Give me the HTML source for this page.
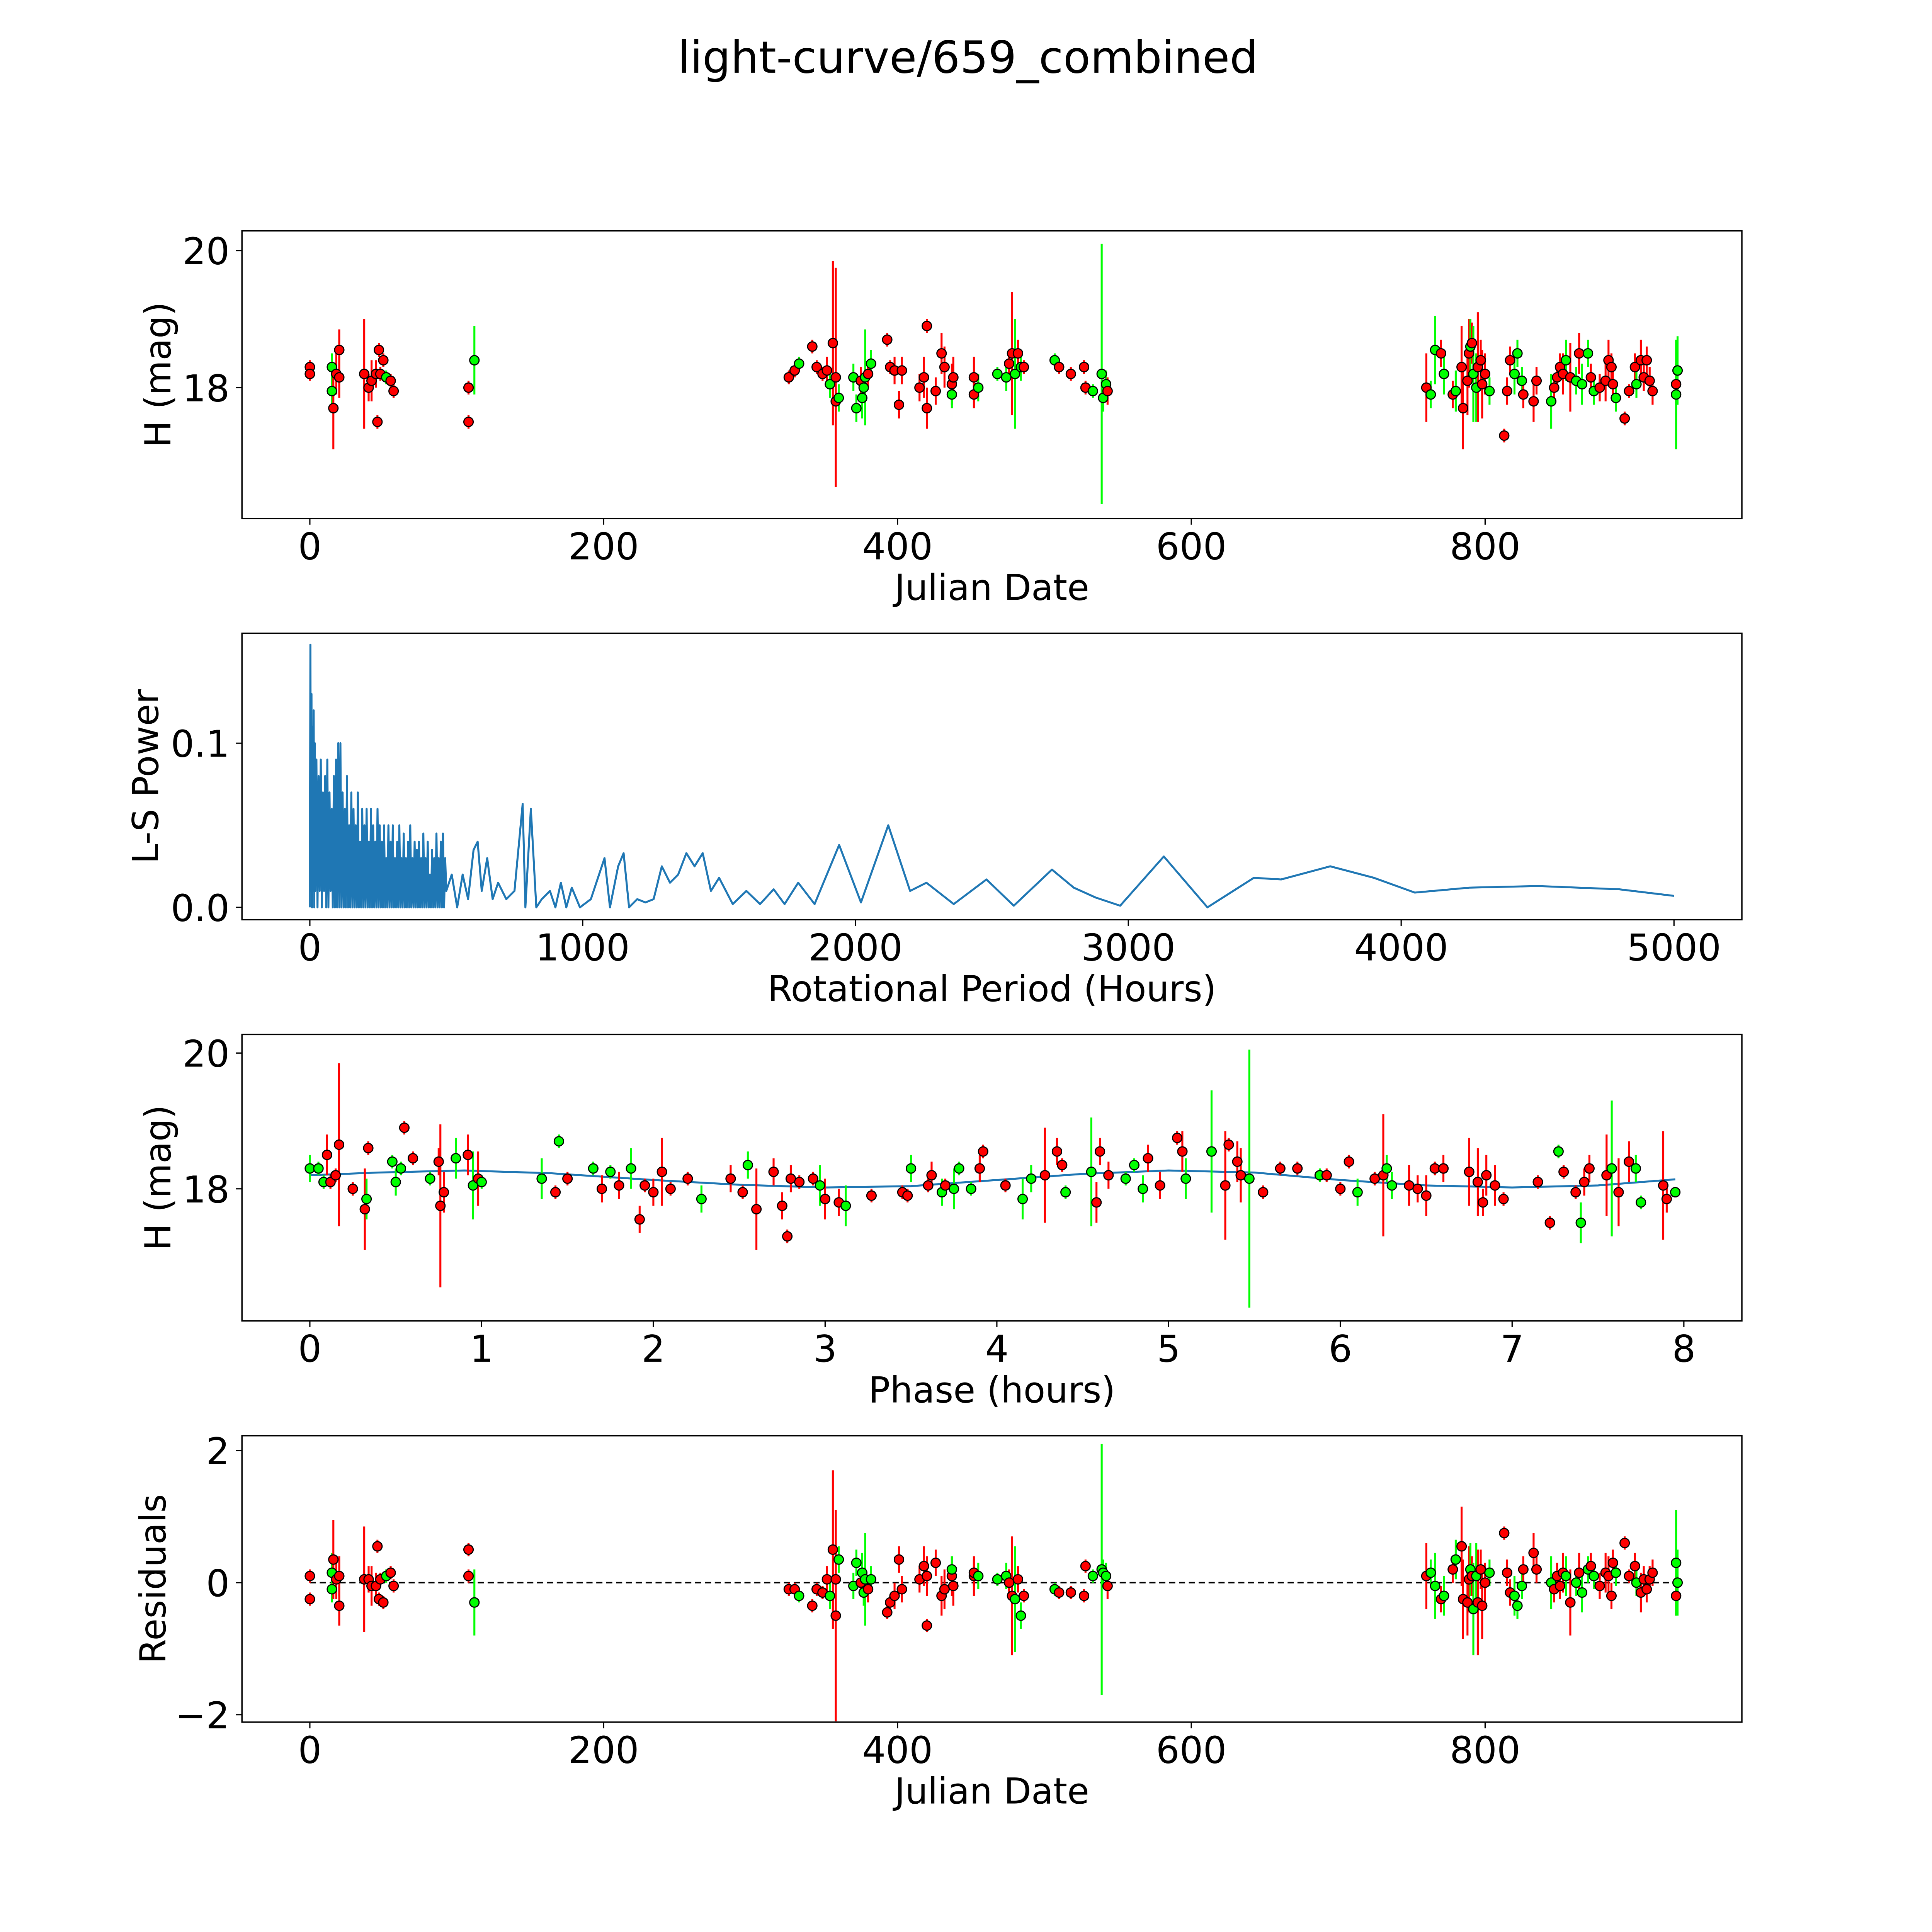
<!DOCTYPE html>
<html><head><meta charset="utf-8"><style>
html,body{margin:0;padding:0;background:#fff;width:100vw;height:100vh;overflow:hidden;}
svg{display:block;width:100vw;height:100vh;font-family:"DejaVu Sans","Liberation Sans",sans-serif;}
</style></head><body>
<svg id="fig" viewBox="0 0 1565 1565" preserveAspectRatio="none" xmlns="http://www.w3.org/2000/svg">
<rect width="1565" height="1565" fill="#fff"/>
<text x="784" y="59" font-size="36" text-anchor="middle">light-curve/659_combined</text>
</svg>
<script>
// ---- data: light curve (Julian date, magnitude, error, filter) ----
const jdDates=[0,0,15,15,16,18,20,20,37,40,42,45,46,47,48,50,52,55,57,108,108,112,
326,330,333,342,345,349,352,354,356,358,358,360,370,372,375,376,377,378,380,382,393,395,398,401,403,415,418,420,420,426,430,432,437,437,438,452,452,455,468,474,476,478,480,482,484,486,507,510,518,527,528,533,539,540,542,543,
760,763,766,770,772,778,780,784,785,788,789,790,791,792,794,795,797,798,800,803,813,815,817,820,822,825,826,833,835,845,847,849,851,853,855,858,862,864,866,870,872,874,878,882,884,886,887,889,895,898,902,903,906,908,910,912,914,930,930,931];
const jdMags=[18.3,18.2,18.3,17.95,17.7,18.2,18.55,18.15,18.2,18.0,18.1,18.2,17.5,18.55,18.2,18.4,18.15,18.1,17.95,18.0,17.5,18.4,
18.15,18.25,18.35,18.6,18.3,18.2,18.25,18.05,18.65,18.15,17.8,17.85,18.15,17.7,18.1,17.85,18.0,18.15,18.2,18.35,18.7,18.3,18.25,17.75,18.25,18.0,18.15,17.7,18.9,17.95,18.5,18.3,18.05,17.9,18.15,18.15,17.9,18.0,18.2,18.15,18.35,18.5,18.2,18.5,18.3,18.3,18.4,18.3,18.2,18.3,18.0,17.95,18.2,17.85,18.05,17.95,
18.0,17.9,18.55,18.5,18.2,17.9,17.95,18.3,17.7,18.1,18.5,18.6,18.65,18.2,18.0,18.3,18.4,18.05,18.2,17.95,17.3,17.95,18.4,18.2,18.5,18.1,17.9,17.8,18.1,17.8,18.0,18.15,18.3,18.2,18.4,18.15,18.1,18.5,18.05,18.5,18.15,17.95,18.0,18.1,18.4,18.3,18.05,17.85,17.55,17.95,18.3,18.05,18.4,18.15,18.4,18.1,17.95,18.05,17.9,18.25];
const jdErrs=[0.1,0.1,0.2,0.3,0.6,0.3,0.3,0.3,0.8,0.2,0.3,0.2,0.1,0.1,0.1,0.1,0.1,0.1,0.1,0.1,0.1,0.5,
0.1,0.1,0.1,0.1,0.1,0.1,0.2,0.2,1.2,1.6,0.2,0.2,0.2,0.2,0.2,0.3,0.2,0.7,0.2,0.2,0.1,0.1,0.2,0.2,0.2,0.2,0.3,0.3,0.1,0.2,0.3,0.3,0.3,0.2,0.3,0.3,0.2,0.2,0.1,0.2,0.2,0.9,0.8,0.2,0.2,0.1,0.1,0.1,0.1,0.1,0.1,0.1,1.9,0.2,0.2,0.2,
0.5,0.2,0.5,0.2,0.3,0.2,0.3,0.6,0.6,0.5,0.5,0.4,0.3,0.7,0.5,0.8,0.3,0.5,0.3,0.2,0.1,0.2,0.2,0.3,0.2,0.2,0.2,0.3,0.2,0.4,0.2,0.2,0.2,0.3,0.3,0.5,0.2,0.3,0.3,0.2,0.2,0.2,0.2,0.3,0.3,0.2,0.2,0.2,0.1,0.1,0.2,0.2,0.3,0.2,0.2,0.2,0.2,0.3,0.8,0.5];
const jdFilters="rrggrrrrrrrrrrrrgrrrrg"+"rrgrrrrgrrrgggrgggrgrrrrrrrrrrrrrgrrrgggrrgrgrgrrrrggggrrg"+"grgrgrrrrgrggrrrrgrrrgggrrrgrrrrgrgrggrgrrrrrgrrrgrrrrrrgggrgr";
const resid=[0.1,-0.25,-0.1,0.15,0.35,0.05,-0.35,0.1,0.05,0.05,-0.05,-0.05,0.55,-0.25,0.05,-0.3,0.1,0.15,-0.05,0.1,0.5,-0.3,
-0.1,-0.1,-0.2,-0.35,-0.1,-0.15,0.05,-0.2,0.5,-0.5,0.05,0.35,-0.05,0.3,0.0,0.15,-0.15,0.05,-0.1,0.05,-0.45,-0.3,-0.2,0.35,-0.1,0.05,0.25,0.1,-0.65,0.3,-0.2,-0.1,0.1,0.2,-0.05,0.1,0.15,0.1,0.05,0.1,0.0,-0.2,-0.25,0.05,-0.5,-0.2,-0.1,-0.15,-0.15,-0.2,0.25,0.1,0.2,0.15,0.1,-0.05,
0.1,0.15,-0.05,-0.25,-0.2,0.2,0.35,0.55,-0.25,-0.3,0.05,0.2,0.1,-0.4,0.1,-0.3,0.2,-0.35,0.0,0.15,0.75,0.15,-0.15,-0.2,-0.35,-0.05,0.2,0.45,0.2,0.0,-0.1,0.1,-0.05,0.15,0.1,-0.3,0.0,0.15,-0.15,0.2,0.25,0.1,-0.05,0.15,0.1,-0.2,0.3,0.15,0.6,0.1,0.25,0.0,-0.15,0.05,-0.1,0.05,0.15,-0.2,0.3,0.0];
// ---- data: periodogram, short periods as [period, power] pairs ----
const lowSpikes=[[0,0],[2,0.16],[4,0.01],[6,0.13],[8,0],[10,0.11],[12,0.01],[14,0.12],[16,0],[18,0.1],[20,0.01],[24,0.09],[28,0],[32,0.08],[36,0.01],[40,0.09],[44,0],[48,0.07],[52,0.01],[56,0.08],[60,0],[64,0.09],[68,0],[72,0.07],[76,0.01],[80,0.06],[84,0],[88,0.08],[92,0],[96,0.09],[100,0],[104,0.1],[108,0],[112,0.1],[116,0],[120,0.07],[124,0],[128,0.06],[132,0],[136,0.08],[140,0],[144,0.05],[148,0],[152,0.07],[156,0],[160,0.06],[164,0],[168,0.05],[172,0],[176,0.07],[180,0],[184,0.04],[188,0],[192,0.06],[196,0],[200,0.05],[204,0],[208,0.06],[212,0],[216,0.04],[220,0],[224,0.06],[228,0],[232,0.05],[236,0],[240,0.04],[244,0],[248,0.06],[252,0],[256,0.05],[260,0],[264,0.04],[268,0],[272,0.05],[276,0],[280,0.03],[284,0],[288,0.05],[292,0],[296,0.04],[300,0],[304,0.05],[308,0],[312,0.03],[316,0],[320,0.04],[324,0],[328,0.05],[332,0],[336,0.03],[340,0],[344,0.045],[348,0],[352,0.03],[356,0],[360,0.04],[364,0],[368,0.05],[372,0],[376,0.03],[380,0],[384,0.04],[388,0],[392,0.035],[396,0],[400,0.04],[404,0],[408,0.03],[412,0],[416,0.045],[420,0],[424,0.03],[428,0],[432,0.04],[436,0],[440,0.02],[444,0],[448,0.035],[452,0],[456,0.03],[460,0],[464,0.045],[468,0],[472,0.03],[476,0],[480,0.04],[484,0],[488,0.045],[492,0],[496,0.03],[500,0.01]];
const periods=[520,540,560,580,600,615,630,650,670,690,720,750,780,790,810,830,850,880,900,920,940,960,990,1030,1060,1080,1100,1130,1150,1170,1200,1230,1260,1290,1320,1350,1380,1410,1440,1470,1500,1550,1600,1650,1700,1740,1790,1850,1940,2020,2120,2200,2260,2360,2480,2580,2720,2800,2880,2970,3130,3290,3460,3560,3740,3900,4050,4250,4500,4800,5000];
const powers=[0.02,0,0.02,0.005,0.035,0.04,0.01,0.03,0.005,0.015,0.005,0.01,0.063,0,0.06,0,0.005,0.01,0,0.015,0,0.012,0,0.005,0.02,0.03,0,0.025,0.033,0,0.005,0.003,0.005,0.025,0.015,0.02,0.033,0.025,0.033,0.01,0.018,0.002,0.01,0.002,0.011,0.002,0.015,0.002,0.038,0.003,0.05,0.01,0.015,0.002,0.017,0.001,0.023,0.012,0.006,0.001,0.031,0,0.018,0.017,0.025,0.018,0.009,0.012,0.013,0.011,0.007];
// ---- data: phase-folded ----
const phases=[0,0.05,0.08,0.1,0.12,0.15,0.17,0.25,0.32,0.33,0.34,0.48,0.5,0.53,0.55,0.6,0.7,0.75,0.76,0.78,0.85,0.92,0.95,0.98,1.0,1.35,1.43,1.45,1.5,1.65,1.7,1.75,1.8,1.87,1.92,1.95,2.0,2.05,2.1,2.2,2.28,2.45,2.52,2.55,2.6,2.7,2.75,2.78,2.8,2.85,2.93,2.97,3.0,3.08,3.12,3.27,3.45,3.48,3.5,3.6,3.62,3.68,3.7,3.75,3.78,3.85,3.9,3.92,4.05,4.15,4.2,4.28,4.35,4.38,4.4,4.55,4.58,4.6,4.65,4.75,4.8,4.85,4.88,4.95,5.05,5.08,5.1,5.25,5.33,5.35,5.4,5.42,5.47,5.55,5.65,5.75,5.88,5.92,6.0,6.05,6.1,6.2,6.25,6.27,6.3,6.4,6.45,6.5,6.55,6.6,6.75,6.8,6.83,6.85,6.9,6.95,7.15,7.22,7.27,7.3,7.37,7.4,7.42,7.45,7.55,7.58,7.62,7.68,7.72,7.75,7.88,7.9,7.95];
const phMags=[18.3,18.3,18.1,18.5,18.1,18.2,18.65,18.0,17.7,17.85,18.6,18.4,18.1,18.3,18.9,18.45,18.15,18.4,17.75,17.95,18.45,18.5,18.05,18.15,18.1,18.15,17.95,18.7,18.15,18.3,18.0,18.25,18.05,18.3,17.55,18.05,17.95,18.25,18.0,18.15,17.85,18.15,17.95,18.35,17.7,18.25,17.75,17.3,18.15,18.1,18.15,18.05,17.85,17.8,17.75,17.9,17.95,17.9,18.3,18.05,18.2,17.95,18.05,18.0,18.3,18.0,18.3,18.55,18.05,17.85,18.15,18.2,18.55,18.35,17.95,18.25,17.8,18.55,18.2,18.15,18.35,18.0,18.45,18.05,18.75,18.55,18.15,18.55,18.05,18.65,18.4,18.2,18.15,17.95,18.3,18.3,18.2,18.2,18.0,18.4,17.95,18.15,18.2,18.3,18.05,18.05,18.0,17.9,18.3,18.3,18.25,18.1,17.8,18.2,18.05,17.85,18.1,17.5,18.55,18.25,17.95,17.5,18.1,18.3,18.2,18.3,17.95,18.4,18.3,17.8,18.05,17.85,17.95];
const phErrs=[0.2,0.1,0.1,0.3,0.1,0.1,1.2,0.1,0.6,0.3,0.1,0.1,0.2,0.1,0.1,0.1,0.1,0.2,1.2,0.3,0.3,0.3,0.5,0.4,0.1,0.3,0.1,0.1,0.1,0.1,0.2,0.1,0.2,0.3,0.2,0.1,0.2,0.5,0.1,0.1,0.2,0.2,0.1,0.2,0.6,0.2,0.2,0.1,0.2,0.1,0.1,0.3,0.3,0.2,0.3,0.1,0.1,0.1,0.2,0.1,0.2,0.2,0.1,0.3,0.1,0.1,0.2,0.1,0.1,0.3,0.2,0.7,0.2,0.1,0.1,0.8,0.3,0.2,0.2,0.1,0.1,0.2,0.2,0.2,0.1,0.3,0.3,0.9,0.8,0.1,0.3,0.4,1.9,0.1,0.1,0.1,0.1,0.1,0.1,0.1,0.2,0.1,0.9,0.2,0.2,0.3,0.2,0.3,0.1,0.2,0.5,0.5,0.2,0.3,0.3,0.1,0.1,0.1,0.1,0.1,0.1,0.3,0.2,0.2,0.6,1.0,0.5,0.3,0.2,0.1,0.8,0.2];
const phFilters="gggrrrrrrgrgggrrgrrrgrgrggrgrgrgrgrrrrrrgrrgrrrrrrrgrrgrrrgrrgrgggrrrggrrrggrrrgggrrrrggrrrrgrrrgrrrgrrggrrrrrrrrrrrrrgrrgrrrgrrggrrg";
const fitPhase=[0,0.4,0.9,1.4,2.0,2.5,3.0,3.5,4.0,4.5,5.0,5.5,6.0,6.5,7.0,7.5,7.95];
const fitMag=[18.2,18.24,18.27,18.23,18.13,18.06,18.02,18.04,18.13,18.22,18.27,18.24,18.13,18.05,18.02,18.05,18.14];
const jdTicks=[0,200,400,600,800];
const magTicks=[18,20];
const perTicks=[0,1000,2000,3000,4000,5000];
const powTicks=[0.0,0.1];
const phTicks=[0,1,2,3,4,5,6,7,8];
const resTicks=[-2,0,2];

const NS="http://www.w3.org/2000/svg";
const svg=document.getElementById('fig');
function mk(tag,attrs,parent){const e=document.createElementNS(NS,tag);for(const k in attrs)e.setAttribute(k,attrs[k]);(parent||svg).appendChild(e);return e;}
function lin(d0,d1,p0,p1){return v=>p0+(v-d0)*(p1-p0)/(d1-d0);}
const fmtTick=v=>{const s=String(v);return s.replace('-','\u2212');};

function axes(name,box,xs,ys,xt,yt,xlabel,ylabel,yfmt,ylx){
  const g=mk('g',{});
  
  
  const fr=mk('rect',{x:box[0],y:box[1],width:box[2]-box[0],height:box[3]-box[1],fill:'none',stroke:'#000','stroke-width':1.1},g);
  
  
  xt.forEach(v=>{const x=xs(v);
    mk('line',{x1:x,x2:x,y1:box[3],y2:box[3]+5,stroke:'#000','stroke-width':1},g);
    const t=mk('text',{x:x,y:box[3]+33,'font-size':30,'text-anchor':'middle'},g);t.textContent=fmtTick(v);
    
    });
  yt.forEach(v=>{const y=ys(v);
    mk('line',{x1:box[0]-5,x2:box[0],y1:y,y2:y,stroke:'#000','stroke-width':1},g);
    const t=mk('text',{x:box[0]-10,y:y+11,'font-size':30,'text-anchor':'end'},g);t.textContent=yfmt?yfmt(v):fmtTick(v);
    
    });
  const xl=mk('text',{x:(box[0]+box[2])/2,y:box[3]+66,'font-size':29,'text-anchor':'middle'},g);xl.textContent=xlabel;
  
  
  const cy=(box[1]+box[3])/2;
  const yl=mk('text',{x:ylx,y:cy,'font-size':29,'text-anchor':'middle',transform:`rotate(-90 ${ylx} ${cy})`},g);yl.textContent=ylabel;
  
  
  return g;
}
function points(g,xv,yv,ev,fv,xs,ys){
  const col=c=>c==='g'?'#00ff00':'#ff0000';
  xv.forEach((x,i)=>{
    const l=mk('line',{x1:xs(x),x2:xs(x),y1:ys(yv[i]-ev[i]),y2:ys(yv[i]+ev[i]),stroke:col(fv[i]),'stroke-width':1.6},g);
    
    
  });
  xv.forEach((x,i)=>{
    const c=mk('circle',{cx:xs(x),cy:ys(yv[i]),r:3.8,fill:col(fv[i]),stroke:'#000','stroke-width':0.9},g);
    
    
  });
}
// panel 1
{const box=[196,187,1411,420];const xs=lin(0,800,251,1203),ys=lin(18,20,314,203);
 const g=axes('light-curve-panel',box,xs,ys,jdTicks,magTicks,'Julian Date','H (mag)',null,138);
 points(g,jdDates,jdMags,jdErrs,jdFilters,xs,ys);}
// panel 2
{const box=[196,513,1411,745];const xs=lin(0,5000,251,1356),ys=lin(0,0.1,735,602);
 const g=axes('periodogram-panel',box,xs,ys,perTicks,powTicks,'Rotational Period (Hours)','L-S Power',v=>v.toFixed(1),128);
 const pts=lowSpikes.map(p=>xs(p[0])+','+ys(p[1])).concat(periods.map((x,i)=>xs(x)+','+ys(powers[i])));
 const p=mk('polyline',{points:pts.join(' '),fill:'none',stroke:'#1f77b4','stroke-width':1.6,'stroke-linejoin':'round'},g);
 
 }
// panel 3
{const box=[196,838,1411,1070];const xs=lin(0,8,251,1364),ys=lin(18,20,963,853);
 const g=axes('phase-panel',box,xs,ys,phTicks,magTicks,'Phase (hours)','H (mag)',null,138);
 const f=mk('polyline',{points:fitPhase.map((x,i)=>xs(x)+','+ys(fitMag[i])).join(' '),fill:'none',stroke:'#1f77b4','stroke-width':1.6},g);
 
 
 points(g,phases,phMags,phErrs,phFilters,xs,ys);}
// panel 4
{const box=[196,1163,1411,1395];const xs=lin(0,800,251,1203),ys=lin(0,2,1282,1175);
 const g=axes('residuals-panel',box,xs,ys,jdTicks,resTicks,'Julian Date','Residuals',null,134);
 const z=mk('line',{x1:251,x2:1356,y1:ys(0),y2:ys(0),stroke:'#000','stroke-width':1.2,'stroke-dasharray':'5,3'},g);
 
 
 points(g,jdDates,resid,jdErrs,jdFilters,xs,ys);}
</script>
</body></html>
